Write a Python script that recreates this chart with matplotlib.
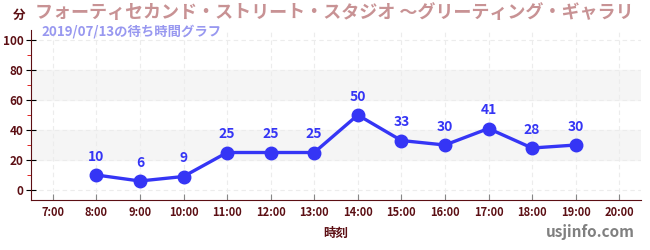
import numpy as np
import matplotlib.pyplot as plt
from matplotlib.ticker import MultipleLocator

plt.rcParams['font.family'] = ['Noto Sans CJK JP', 'DejaVu Sans']

# wait times per hour
hours = [8, 9, 10, 11, 12, 13, 14, 15, 16, 17, 18, 19]
waits = [10, 6, 9, 25, 25, 25, 50, 33, 30, 41, 28, 30]
tick_hours = list(range(7, 21))
tick_labels = ['%d:00' % h for h in tick_hours]

# title as visible in the picture (it runs off the right edge there)
title = 'フォーティセカンド・ストリート・スタジオ ～グリーティング・ギャラリ'
subtitle = '2019/07/13の待ち時間グラフ'

dark = '#5c0f14'
fig = plt.figure(figsize=(6.5, 2.5), dpi=100)
ax = fig.add_axes([31 / 650, 0.2, 610 / 650, 0.68])

ax.set_xlim(6.5, 20.5)
ax.set_ylim(-6.67, 106.7)

# alternating bands
for lo, hi in [(20, 40), (60, 80)]:
    ax.axhspan(lo, hi, color='#f5f5f5', zorder=0)

ax.set_xticks(tick_hours)
ax.set_xticklabels(tick_labels)
ax.yaxis.set_major_locator(MultipleLocator(20))
ax.yaxis.set_minor_locator(MultipleLocator(10))
ax.grid(True, which='major', color='#ececec', linestyle=(0, (4, 3)), lw=0.8)

ax.plot(hours, waits, color='#3535f5', lw=2.4, marker='o', ms=9, zorder=3)
for h, w in zip(hours, waits):
    ax.annotate(str(w), (h, w), xytext=(0, 8), textcoords='offset points',
                ha='center', va='bottom', color='#3535f5', fontsize=10,
                fontweight='bold')

for s in ['top', 'right']:
    ax.spines[s].set_visible(False)
ax.spines['left'].set_color(dark)
ax.spines['bottom'].set_color(dark)
ax.tick_params(axis='x', direction='in', length=4, color='#888888',
               labelsize=8, labelcolor=dark, pad=4)
ax.tick_params(axis='y', which='major', direction='inout', length=7,
               color='black', labelsize=8.5, labelcolor=dark, pad=2)
ax.tick_params(axis='y', which='minor', direction='out', length=3,
               color='#dd0000')
for lab in ax.get_xticklabels() + ax.get_yticklabels():
    lab.set_fontweight('bold')

ax.set_xlabel('時刻', color=dark, fontsize=9, fontweight='bold', labelpad=6)

fig.text(13 / 650, 1 - 15 / 250, '分', color=dark, fontsize=9,
         fontweight='bold', va='center', ha='left')
fig.text(35 / 650, 1 - 13 / 250, title, color='#c89294', fontsize=13.0,
         fontweight='bold', va='center', ha='left')
fig.text(41 / 650, 1 - 31 / 250, subtitle, color='#9898f0', fontsize=9.6,
         fontweight='bold', va='center', ha='left')
fig.text(635 / 650, 1 - 232 / 250, 'usjinfo.com', color='#808080',
         fontsize=11, fontweight='bold', va='center', ha='right')

fig.savefig('out.png', dpi=100)
